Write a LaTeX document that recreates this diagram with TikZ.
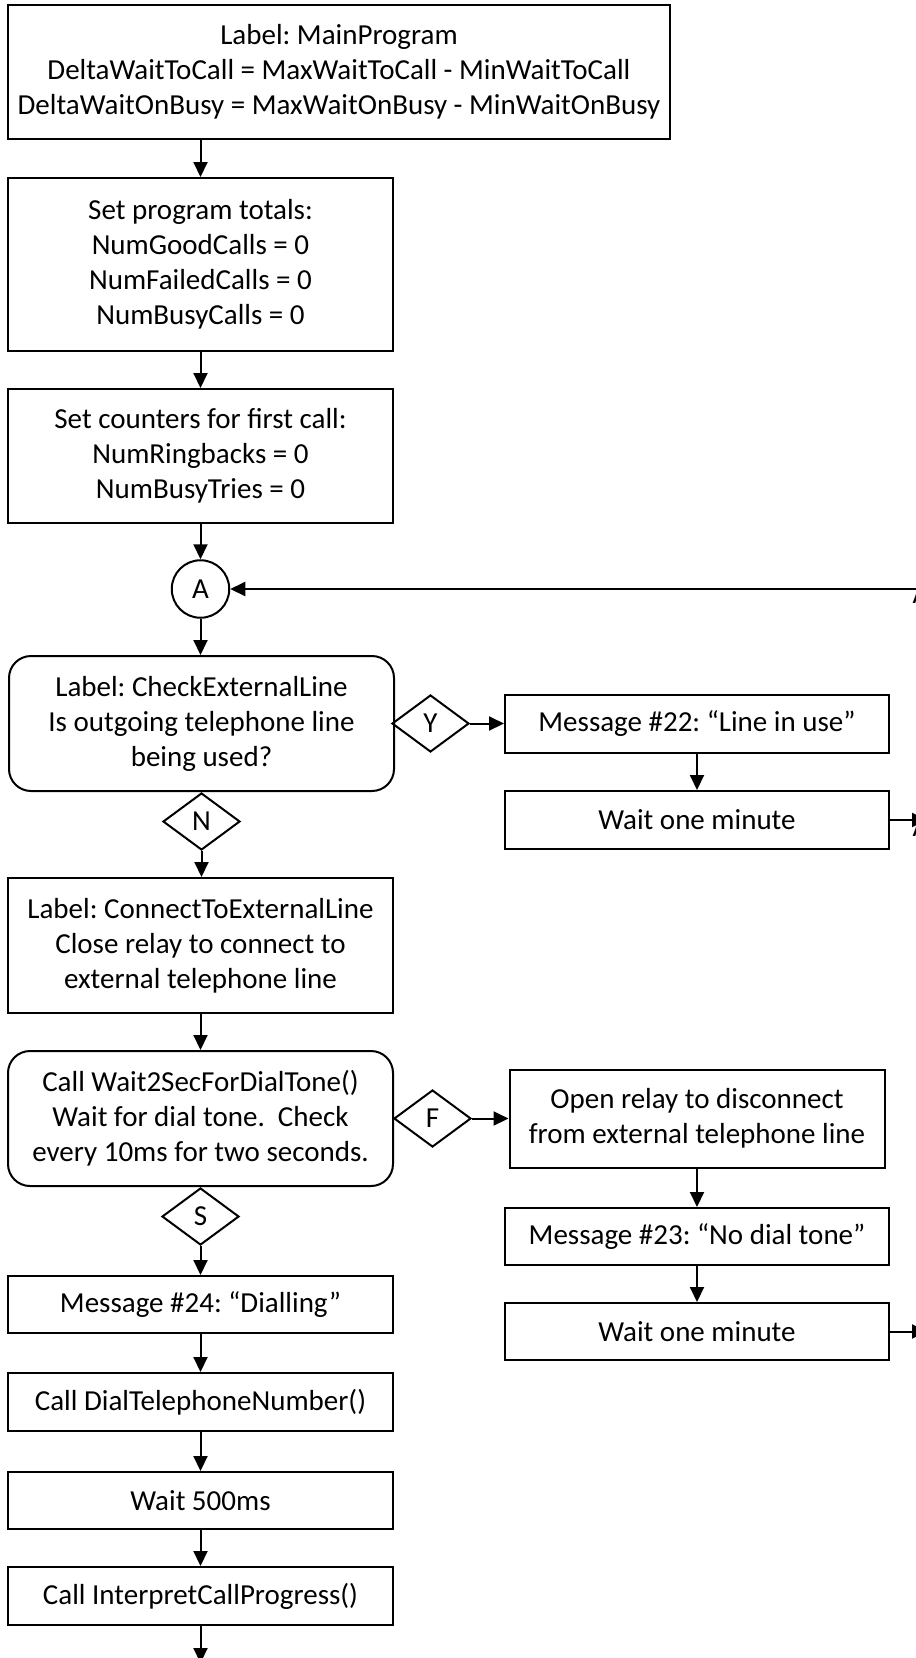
\documentclass[tikz,border=0pt]{standalone}
\usepackage{fontspec}
\setmainfont{Carlito}
\usetikzlibrary{shapes.geometric,arrows.meta}
\newcommand{\flowfont}{\frenchspacing\fontsize{29}{35}\selectfont}
\tikzset{
  box/.style={draw, line width=2pt, align=center, inner sep=0pt, font=\flowfont},
  rbox/.style={box, rounded corners=22pt},
  decide/.style={diamond, draw, line width=2pt, inner sep=0pt,
                 minimum width=77pt, minimum height=57pt, font=\flowfont},
  joint/.style={circle, draw, line width=2pt, inner sep=0pt,
                minimum size=57.5pt, font=\flowfont},
  arr/.style={line width=2pt, -{Triangle[length=15pt,width=14pt]}},
  offtag/.style={inner sep=0pt, anchor=base west, font=\flowfont}
}
\begin{document}
\begin{tikzpicture}[x=1pt,y=-1pt]
\useasboundingbox (0,0) rectangle (916,1658);
\clip (0,0) rectangle (916,1658);
\fill[white] (0,0) rectangle (916,1658);

% ---- main column ----
\node[box, minimum width=662pt, minimum height=134pt] (main) at (339,72)
  {Label: MainProgram\\DeltaWaitToCall = MaxWaitToCall - MinWaitToCall\\DeltaWaitOnBusy = MaxWaitOnBusy - MinWaitOnBusy};
\node[box, minimum width=385pt, minimum height=173pt] (totals) at (200.5,264.5)
  {Set program totals:\\NumGoodCalls = 0\\NumFailedCalls = 0\\NumBusyCalls = 0};
\node[box, minimum width=385pt, minimum height=134pt] (counters) at (200.5,456)
  {Set counters for first call:\\NumRingbacks = 0\\NumBusyTries = 0};
\node[joint] (conA) at (200.5,589) {A};
\node[rbox, minimum width=385pt, minimum height=135pt] (check) at (201.5,723.5)
  {Label: CheckExternalLine\\Is outgoing telephone line\\being used?};
\node[decide] (dY) at (430.5,723.5) {Y};
\node[decide, anchor=north] (dN) at (check.south) {N};
\node[box, minimum width=385pt, minimum height=135pt] (connect) at (200.5,945.5)
  {Label: ConnectToExternalLine\\Close relay to connect to\\external telephone line};
\node[rbox, minimum width=385pt, minimum height=135pt] (dialtone) at (200.5,1118.5)
  {Call Wait2SecForDialTone()\\Wait for dial tone.\ \ Check\\every 10ms for two seconds.};
\node[decide, anchor=west] (dF) at ([xshift=-1pt]dialtone.east) {F};
\node[decide, anchor=north] (dS) at (dialtone.south) {S};
\node[box, minimum width=385pt, minimum height=57pt] (msg24) at (200.5,1304.5)
  {Message \#24: “Dialling”};
\node[box, minimum width=385pt, minimum height=58pt] (dial) at (200.5,1402)
  {Call DialTelephoneNumber()};
\node[box, minimum width=385pt, minimum height=57pt] (wait500) at (200.5,1500.5)
  {Wait 500ms};
\node[box, minimum width=385pt, minimum height=58pt] (interp) at (200.5,1596)
  {Call InterpretCallProgress()};

% ---- line-in-use branch ----
\node[box, minimum width=384pt, minimum height=58pt] (msg22) at (697,723.5)
  {Message \#22: “Line in use”};
\node[box, minimum width=384pt, minimum height=58pt] (waitA) at (697,820)
  {Wait one minute};

% ---- no-dial-tone branch ----
\node[box, minimum width=375pt, minimum height=98pt] (open) at (697,1118.5)
  {Open relay to disconnect\\from external telephone line};
\node[box, minimum width=384pt, minimum height=57pt] (msg23) at (697,1236.5)
  {Message \#23: “No dial tone”};
\node[box, minimum width=384pt, minimum height=57pt] (waitB) at (697,1331.5)
  {Wait one minute};

% ---- off-page connector ends ----
\coordinate (backA) at (935,589);
\coordinate (toA1) at (927,820);
\coordinate (toA2) at (927,1331.5);
\coordinate (down) at (200.5,1663);
\node[offtag] (tagA0) at (912.5,603) {A};
\node[offtag] (tagA1) at (912.5,836) {A};

% ---- connectors ----
\draw[arr] (totals.north |- main.south) -- (totals.north);
\draw[arr] (totals.south) -- (counters.north);
\draw[arr] (counters.south) -- (conA.north);
\draw[arr] (conA.south) -- (conA.south |- check.north);
\draw[arr] (backA) -- (conA.east);
\draw[arr] (dY.east) -- (msg22.west |- dY.east);
\draw[arr] (msg22.south) -- (waitA.north);
\draw[arr] (waitA.east) -- (toA1);
\draw[arr] (dN.south) -- (dN.south |- connect.north);
\draw[arr] (connect.south) -- (dialtone.north);
\draw[arr] (dF.east) -- (open.west |- dF.east);
\draw[arr] (open.south) -- (msg23.north);
\draw[arr] (msg23.south) -- (waitB.north);
\draw[arr] (waitB.east) -- (toA2);
\draw[arr] (dS.south) -- (msg24.north);
\draw[arr] (msg24.south) -- (dial.north);
\draw[arr] (dial.south) -- (wait500.north);
\draw[arr] (wait500.south) -- (interp.north);
\draw[arr] (interp.south) -- (down);
\end{tikzpicture}
\end{document}
